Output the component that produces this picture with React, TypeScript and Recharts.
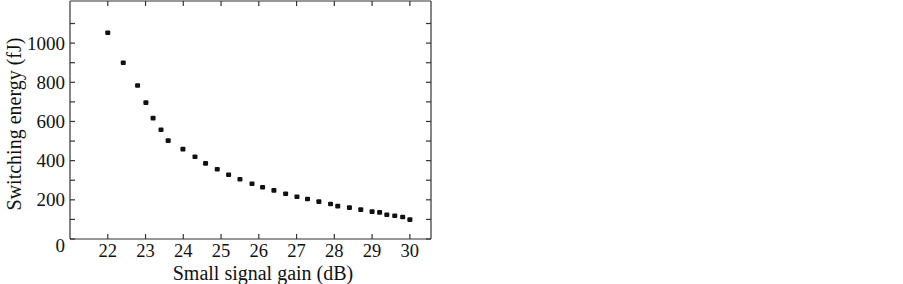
import { Scatter, ScatterChart, XAxis, YAxis } from "recharts";

const gain = [
  22.0, 22.41, 22.79, 23.01, 23.2, 23.41, 23.6, 23.99, 24.31, 24.59, 24.9, 25.2, 25.5, 25.82, 26.1,
  26.4, 26.71, 27.01, 27.29, 27.59, 27.9, 28.09, 28.4, 28.7, 29.0, 29.2, 29.39, 29.6, 29.81, 30.0,
];
const energy = [
  1053, 900, 784, 696, 617, 558, 502, 459, 420, 386, 356, 328, 305, 282, 264,
  248, 231, 216, 204, 191, 179, 168, 160, 150, 140, 136, 124, 119, 112, 99,
];
const xTicks = [22, 23, 24, 25, 26, 27, 28, 29, 30];
const yTicks = [0, 100, 200, 300, 400, 500, 600, 700, 800, 900, 1000, 1100];

const rows = gain.map((g, i) => ({ g, e: energy[i] }));

const FONT = "'Liberation Serif', 'Times New Roman', serif";
const INK = "#111";
const FRAME = "#333";

// ticks point inward on every side of the frame
function LeftTick({ x, y, payload }: any) {
  const v = payload.value;
  return (
    <g>
      <line x1={x} x2={x + 5} y1={y} y2={y} stroke={FRAME} strokeWidth={1.2} />
      {v % 200 === 0 && (
        <text x={x - 5} y={v === 0 ? y + 6 : y} textAnchor="end" dominantBaseline="central" fontSize={19} fill={INK} fontFamily={FONT}>
          {v}
        </text>
      )}
    </g>
  );
}

function RightTick({ x, y }: any) {
  return <line x1={x} x2={x - 5} y1={y} y2={y} stroke={FRAME} strokeWidth={1.2} />;
}

function BottomTick({ x, y, payload }: any) {
  return (
    <g>
      <line x1={x} x2={x} y1={y} y2={y - 5} stroke={FRAME} strokeWidth={1.2} />
      <text x={x} y={y + 12} textAnchor="middle" dominantBaseline="central" fontSize={18.5} fill={INK} fontFamily={FONT}>
        {payload.value}
      </text>
    </g>
  );
}

function TopTick({ x, y }: any) {
  return <line x1={x} x2={x} y1={y} y2={y + 5} stroke={FRAME} strokeWidth={1.2} />;
}

function Dot({ cx, cy }: any) {
  return <rect x={cx - 2.5} y={cy - 2.3} width={5} height={4.6} rx={1} fill={INK} />;
}

function Nothing() {
  return <g />;
}

export default function App() {
  const axisLine = { stroke: FRAME, strokeWidth: 1.2 };
  return (
    <div style={{ position: "absolute", left: 0, top: 0, width: 903, height: 284, background: "#fff" }}>
      <ScatterChart width={903} height={284} margin={{ top: 0, right: 471, bottom: 0, left: 0 }}>
        <XAxis xAxisId="b" type="number" dataKey="g" domain={[21, 30.56]} ticks={xTicks} interval={0} orientation="bottom" height={45}
          axisLine={axisLine} tickLine={false} tickSize={0} tickMargin={0} tick={<BottomTick />} allowDataOverflow />
        <XAxis xAxisId="t" type="number" dataKey="g" domain={[21, 30.56]} ticks={xTicks} interval={0} orientation="top" height={1}
          axisLine={axisLine} tickLine={false} tickSize={0} tickMargin={0} tick={<TopTick />} allowDataOverflow />
        <YAxis yAxisId="l" type="number" dataKey="e" domain={[0, 1215]} ticks={yTicks} interval={0} orientation="left" width={70}
          axisLine={axisLine} tickLine={false} tickSize={0} tickMargin={0} tick={<LeftTick />} allowDataOverflow />
        <YAxis yAxisId="r" type="number" dataKey="e" domain={[0, 1215]} ticks={yTicks} interval={0} orientation="right" width={1}
          axisLine={axisLine} tickLine={false} tickSize={0} tickMargin={0} tick={<RightTick />} allowDataOverflow />
        <Scatter data={rows} xAxisId="b" yAxisId="l" shape={<Dot />} isAnimationActive={false} />
        <Scatter data={rows} xAxisId="t" yAxisId="r" shape={<Nothing />} isAnimationActive={false} />
      </ScatterChart>
      <svg width={903} height={284} style={{ position: "absolute", left: 0, top: 0, pointerEvents: "none" }}>
        <text x={263} y={279.5} textAnchor="middle" fontSize={20} fill={INK} fontFamily={FONT}>
          Small signal gain (dB)
        </text>
        <text transform="translate(14,124) rotate(-90)" textAnchor="middle" dominantBaseline="central" fontSize={20} fill={INK} fontFamily={FONT}>
          Switching energy (fJ)
        </text>
      </svg>
    </div>
  );
}
